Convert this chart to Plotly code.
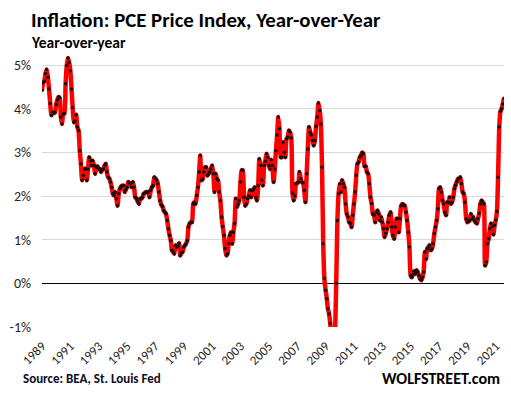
import pandas as pd
import plotly.graph_objects as go

# Monthly PCE price index, year-over-year % change (Jan 1989 - Aug 2021)
y1989 = [4.42, 4.60, 4.63, 4.81, 4.90, 4.72, 4.45, 4.12, 3.85, 3.92, 3.90, 3.92]
y1990 = [4.10, 4.20, 4.27, 4.25, 3.81, 3.65, 3.88, 3.89, 4.57, 4.99, 5.16, 5.06]
y1991 = [4.87, 4.45, 4.03, 3.69, 3.72, 3.86, 3.58, 3.50, 3.04, 2.74, 2.36, 2.47]
y1992 = [2.62, 2.62, 2.36, 2.62, 2.89, 2.81, 2.70, 2.81, 2.70, 2.51, 2.66, 2.68]
y1993 = [2.62, 2.62, 2.55, 2.60, 2.62, 2.70, 2.74, 2.55, 2.43, 2.40, 2.32, 2.20]
y1994 = [2.05, 2.01, 2.09, 1.94, 1.78, 2.05, 2.17, 2.22, 2.24, 2.24, 2.09, 2.15]
y1995 = [2.20, 2.32, 2.30, 2.28, 2.20, 2.32, 2.20, 1.97, 1.94, 1.88, 1.82, 1.94]
y1996 = [1.94, 1.97, 2.05, 2.07, 2.09, 2.09, 2.09, 1.97, 2.13, 2.20, 2.24, 2.43]
y1997 = [2.40, 2.36, 2.28, 2.09, 1.90, 1.80, 1.76, 1.67, 1.63, 1.59, 1.44, 1.25]
y1998 = [1.10, 0.98, 0.76, 0.72, 0.68, 0.87, 0.83, 0.85, 0.92, 0.64, 0.70, 0.72]
y1999 = [0.83, 0.87, 0.91, 0.98, 1.29, 1.37, 1.40, 1.40, 1.82, 1.86, 1.82, 2.01]
y2000 = [2.20, 2.55, 2.93, 2.36, 2.39, 2.55, 2.66, 2.66, 2.47, 2.51, 2.55, 2.62]
y2001 = [2.70, 2.51, 2.09, 2.51, 2.40, 2.36, 2.09, 1.90, 1.52, 1.30, 1.10, 0.80]
y2002 = [0.64, 0.68, 0.91, 1.10, 1.17, 0.91, 1.17, 1.37, 1.94, 1.75, 1.82, 1.90]
y2003 = [2.32, 2.59, 2.59, 1.97, 1.78, 1.82, 1.94, 2.00, 2.13, 1.97, 2.13, 2.15]
y2004 = [2.20, 1.97, 1.90, 2.24, 2.85, 2.70, 2.36, 2.24, 2.70, 2.80, 2.97, 2.89]
y2005 = [2.70, 2.62, 2.83, 2.70, 2.32, 2.62, 3.04, 3.40, 3.81, 3.54, 2.89, 2.89]
y2006 = [3.23, 3.00, 2.89, 3.31, 3.35, 3.50, 3.46, 3.33, 2.07, 1.90, 2.00, 2.28]
y2007 = [2.30, 2.32, 2.55, 2.40, 2.32, 2.30, 2.13, 1.86, 2.51, 3.08, 3.58, 3.46]
y2008 = [3.40, 3.27, 3.16, 3.27, 3.60, 3.81, 4.13, 3.96, 3.65, 2.66, 0.91, 0.11]
y2009 = [-0.16, -0.35, -0.58, -0.70, -0.92, -1.25, -1.50, -1.40, -1.10, 0.00, 1.44, 2.05]
y2010 = [2.28, 2.09, 2.36, 2.28, 2.20, 1.82, 1.59, 1.52, 1.40, 1.37, 1.29, 1.56]
y2011 = [1.82, 2.09, 2.47, 2.74, 2.78, 2.89, 2.93, 3.00, 2.97, 2.68, 2.68, 2.55]
y2012 = [2.51, 2.28, 1.97, 1.83, 1.59, 1.56, 1.40, 1.63, 1.67, 1.59, 1.44, 1.52]
y2013 = [1.40, 1.25, 1.06, 1.15, 1.25, 1.40, 1.56, 1.63, 1.29, 1.10, 1.02, 1.29]
y2014 = [1.48, 1.48, 1.17, 1.48, 1.78, 1.82, 1.80, 1.78, 1.63, 1.44, 1.17, 0.83]
y2015 = [0.18, 0.14, 0.20, 0.28, 0.22, 0.30, 0.26, 0.18, 0.10, 0.07, 0.14, 0.26]
y2016 = [0.72, 0.56, 0.79, 0.83, 0.87, 0.76, 0.79, 0.91, 1.14, 1.29, 1.44, 1.71]
y2017 = [2.17, 2.20, 2.09, 1.90, 1.82, 1.63, 1.56, 1.86, 1.86, 1.97, 1.82, 1.86]
y2018 = [1.97, 2.17, 2.25, 2.32, 2.39, 2.40, 2.43, 2.28, 2.09, 2.05, 1.86, 1.48]
y2019 = [1.40, 1.42, 1.44, 1.59, 1.48, 1.52, 1.44, 1.40, 1.37, 1.48, 1.60, 1.82]
y2020 = [1.90, 1.86, 1.82, 0.41, 0.49, 0.91, 1.02, 1.25, 1.37, 1.30, 1.12, 1.33]
y2021 = [1.45, 1.65, 2.43, 3.58, 3.94, 4.00, 4.11, 4.24]

yearly = [y1989, y1990, y1991, y1992, y1993, y1994, y1995, y1996, y1997, y1998,
          y1999, y2000, y2001, y2002, y2003, y2004, y2005, y2006, y2007, y2008,
          y2009, y2010, y2011, y2012, y2013, y2014, y2015, y2016, y2017, y2018,
          y2019, y2020, y2021]
values = [v for yr in yearly for v in yr]
dates = pd.date_range("1989-01-01", periods=len(values), freq="MS")

tick_years = list(range(1989, 2022, 2))
tick_vals = [f"{y}-01-01" for y in tick_years]
tick_text = [str(y) for y in tick_years]
y_ticks = [-1, 0, 1, 2, 3, 4, 5]
y_text = [f"{t}%" for t in y_ticks]

FONT = "Calibri, Carlito, Lato, 'Noto Sans', sans-serif"

# plot area in pixels
L, R, T, B = 42, 504, 52, 327
W, H = 511, 394


def px_x(px):
    return (px - L) / (R - L)


def px_y(py):
    return (B - py) / (B - T)


fig = go.Figure()
fig.add_trace(go.Scatter(
    x=dates, y=values, mode="lines+markers",
    line=dict(color="#ff0000", width=4.5, shape="spline", smoothing=0.6),
    marker=dict(color="#111111", size=3.5),
    hoverinfo="skip", showlegend=False,
))

fig.update_layout(
    width=W, height=H,
    margin=dict(l=L, r=W - R, t=T, b=H - B, autoexpand=False),
    paper_bgcolor="white", plot_bgcolor="white",
    font=dict(family=FONT, color="#262626", size=13),
    annotations=[
        dict(text="<b>Inflation: PCE Price Index, Year-over-Year</b>", xref="paper", yref="paper",
             x=px_x(29), xanchor="left", y=px_y(20), yanchor="middle",
             showarrow=False, font=dict(size=20.8, color="#000000", family=FONT)),
        dict(text="<b>Year-over-year</b>", xref="paper", yref="paper",
             x=px_x(29), xanchor="left", y=px_y(42), yanchor="middle",
             showarrow=False, font=dict(size=15.5, color="#000000", family=FONT)),
        dict(text="<b>Source: BEA, St. Louis Fed</b>", xref="paper", yref="paper",
             x=px_x(21), xanchor="left", y=px_y(379), yanchor="middle",
             showarrow=False, font=dict(size=13, color="#0d0d26", family=FONT)),
        dict(text="<b>WOLFSTREET.com</b>", xref="paper", yref="paper",
             x=px_x(502), xanchor="right", y=px_y(378), yanchor="middle",
             showarrow=False, font=dict(size=16, color="#000000", family=FONT)),
    ],
)

fig.update_xaxes(
    type="date", range=["1989-01-01", "2021-08-01"],
    tickmode="array", tickvals=tick_vals, ticktext=tick_text,
    tickangle=-45, tickfont=dict(size=13, color="#262626"),
    showgrid=False, zeroline=False, showline=False, ticks="",
    ticklabelstandoff=8, automargin=False,
)
fig.update_yaxes(
    range=[-1, 5.3], tickmode="array", tickvals=y_ticks, ticktext=y_text,
    tickfont=dict(size=14, color="#262626"),
    showgrid=True, gridcolor="#d9d9d9", gridwidth=1,
    zeroline=True, zerolinecolor="#000000", zerolinewidth=1.5,
    showline=False, ticks="", ticklabelstandoff=10, automargin=False,
)

fig.write_html(
    "out.html",
    config={"displayModeBar": False, "staticPlot": True},
    post_script="document.body.style.margin='0px';document.body.style.padding='0px';",
)
